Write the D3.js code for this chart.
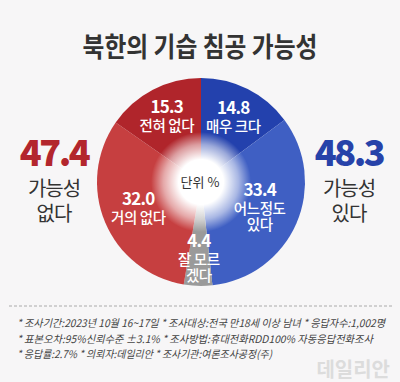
<!DOCTYPE html>
<html>
<head>
<meta charset="utf-8">
<script src="https://cdn.jsdelivr.net/npm/d3@7"></script>
<style>
  html, body { margin: 0; padding: 0; background: #f7f6f7; }
  svg { display: block; font-family: "Noto Sans CJK KR", "Noto Sans", sans-serif; }
</style>
</head>
<body>
<svg id="chart" width="400" height="382"></svg>
<script>
// data
const categories = ["매우 크다", "어느정도 있다", "잘 모르겠다", "거의 없다", "전혀 없다"];
const values = [14.8, 33.4, 4.4, 32.0, 15.3];
const labelLines = [["매우 크다"], ["어느정도", "있다"], ["잘 모르", "겠다"], ["거의 없다"], ["전혀 없다"]];
const colors = ["#2341ad", "#3f5fc3", "#9a9a9a", "#c63f40", "#b0252b"];
const totals = [
  { value: "47.4", lines: ["가능성", "없다"], color: "#b3262d" },
  { value: "48.3", lines: ["가능성", "있다"], color: "#2742a9" }
];
const notes = [
  "* 조사기간:2023년 10월 16~17일  * 조사대상:전국 만18세 이상 남녀  * 응답자수:1,002명",
  "* 표본오차:95%신뢰수준 ±3.1%  * 조사방법:휴대전화RDD100% 자동응답전화조사",
  "* 응답률:2.7%  * 의뢰자:데일리안  * 조사기관:여론조사공정(주)"
];

const svg = d3.select("#chart");
const cx = 201, cy = 182, radius = 104;

// title
svg.append("text")
  .attr("x", 200).attr("y", 57)
  .attr("text-anchor", "middle")
  .attr("font-size", 27).attr("font-weight", 700)
  .attr("fill", "#333")
  .attr("textLength", 235).attr("lengthAdjust", "spacingAndGlyphs")
  .text("북한의 기습 침공 가능성");

// pie
const pie = d3.pie().sort(null).value(d => d);
const arcs = pie(values);
const arc = d3.arc().innerRadius(0).outerRadius(radius);

const g = svg.append("g").attr("transform", `translate(${cx},${cy})`);

g.selectAll("path.slice")
  .data(arcs)
  .enter()
  .append("path")
  .attr("class", "slice")
  .attr("d", arc)
  .attr("fill", (d, i) => colors[i]);

// white glow in the middle
const defs = svg.append("defs");
const grad = defs.append("radialGradient").attr("id", "glow");
grad.append("stop").attr("offset", "0%").attr("stop-color", "#fff").attr("stop-opacity", 1);
grad.append("stop").attr("offset", "45%").attr("stop-color", "#fff").attr("stop-opacity", 1);
grad.append("stop").attr("offset", "75%").attr("stop-color", "#fff").attr("stop-opacity", 0.55);
grad.append("stop").attr("offset", "100%").attr("stop-color", "#fff").attr("stop-opacity", 0);
g.append("circle").attr("r", 50).attr("fill", "url(#glow)");

g.append("text")
  .attr("x", -1).attr("y", 5)
  .attr("text-anchor", "middle")
  .attr("font-size", 13).attr("fill", "#333")
  .text("단위 %");

// slice labels
const labelR = [72, 64, 77, 68, 74];
arcs.forEach((d, i) => {
  const mid = (d.startAngle + d.endAngle) / 2;
  const lx = Math.sin(mid) * labelR[i];
  const ly = -Math.cos(mid) * labelR[i];
  const lines = labelLines[i];
  const blockH = 18 + lines.length * 17;
  const top = ly - blockH / 2;
  const t = g.append("g").attr("fill", "#fff").attr("text-anchor", "middle");
  t.append("text")
    .attr("x", lx).attr("y", top + 14)
    .attr("font-size", 17).attr("font-weight", 700)
    .attr("letter-spacing", -0.8)
    .text(d3.format(".1f")(values[i]));
  lines.forEach((s, j) => {
    t.append("text")
      .attr("x", lx).attr("y", top + 32 + j * 16.5)
      .attr("font-size", 14.5).attr("font-weight", 500)
      .attr("letter-spacing", -0.4)
      .text(s);
  });
});

// totals on both sides
const sideX = [54, 349];
totals.forEach((d, i) => {
  svg.append("text")
    .attr("x", sideX[i]).attr("y", 166)
    .attr("text-anchor", "middle")
    .attr("font-size", 36).attr("font-weight", 900)
    .attr("fill", d.color)
    .attr("letter-spacing", -2.5)
    .text(d.value);
  d.lines.forEach((s, j) => {
    svg.append("text")
      .attr("x", sideX[i]).attr("y", 196 + j * 25)
      .attr("text-anchor", "middle")
      .attr("font-size", 20).attr("fill", "#333")
      .attr("letter-spacing", -1)
      .text(s);
  });
});

// footer
svg.append("line")
  .attr("x1", 9).attr("x2", 392)
  .attr("y1", 306).attr("y2", 306)
  .attr("stroke", "#aaa").attr("stroke-width", 1)
  .attr("stroke-dasharray", "3,2");

const noteLen = [368, 356, 255];
notes.forEach((s, i) => {
  svg.append("text")
    .attr("x", 17).attr("y", 327 + i * 15.5)
    .attr("font-size", 10.5).attr("fill", "#444")
    .attr("font-style", "italic")
    .attr("textLength", noteLen[i]).attr("lengthAdjust", "spacingAndGlyphs")
    .text(s);
});

svg.append("text")
  .attr("x", 390).attr("y", 377)
  .attr("text-anchor", "end")
  .attr("font-size", 20).attr("font-weight", 700)
  .attr("fill", "#dcdcdc")
  .text("데일리안");
</script>
</body>
</html>
